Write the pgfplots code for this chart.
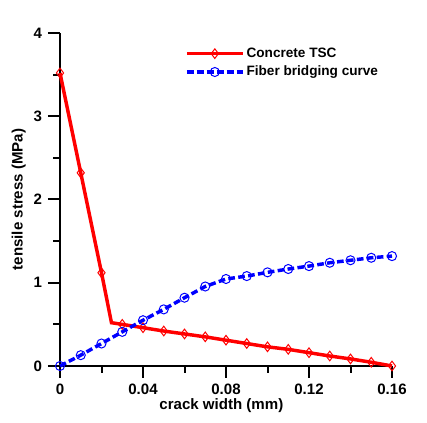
\documentclass[border=0pt]{standalone}
\usepackage{pgfplots}
\pgfplotsset{compat=1.18}
\usepackage{fontspec}
\setmainfont{Liberation Sans}
\begin{document}
\begin{tikzpicture}[x=1pt,y=1pt]
\useasboundingbox (0,0) rectangle (320.25,317.25);
\begin{axis}[
  at={(45pt,42.75pt)}, anchor=south west,
  scale only axis, width=249pt, height=249.75pt,
  xmin=0, xmax=0.16, ymin=0, ymax=4,
  axis x line=bottom, axis y line=left,
  axis line style={-, line width=1.5pt},
  every tick/.style={black, line width=1.5pt},
  tick align=outside,
  major tick length=9pt, minor tick length=5pt,
  xtick={0,0.04,0.08,0.12,0.16},
  xticklabels={0,0.04,0.08,0.12,0.16},
  minor xtick={0.02,0.06,0.10,0.14},
  ytick={0,1,2,3,4},
  yticklabels={0,1,2,3,4},
  minor ytick={0.5,1.5,2.5,3.5},
  ticklabel style={font=\fontsize{11.3}{13}\selectfont\bfseries},
  xticklabel style={yshift=-1pt},
  yticklabel style={xshift=-1pt},
  xlabel={crack width (mm)},
  ylabel={tensile stress (MPa)},
  label style={font=\fontsize{11.3}{13}\selectfont\bfseries},
  xlabel style={at={(axis description cs:0.486,-0.12)}, anchor=center},
  ylabel style={at={(axis description cs:-0.124,0.5)}, anchor=center, rotate=0},
  clip=false,
  legend style={draw=none, fill=none, at={(axis description cs:0.372,0.968)}, anchor=north west,
    font=\fontsize{10.2}{12}\selectfont\bfseries, row sep=1pt,
    inner sep=1pt, nodes={inner xsep=1.5pt}},
  legend cell align=left,
]
\addlegendimage{legend image code/.code={
  \draw[red, line width=2.6pt] (0pt,0pt) -- (42pt,0pt);
  \draw[red, line width=0.75pt] plot[mark=diamond, mark size=3.6pt] coordinates {(21pt,0pt)};}}
\addlegendentry{Concrete TSC}
\addlegendimage{legend image code/.code={
  \draw[blue, line width=2.6pt, dash pattern=on 5pt off 2.5pt] (0pt,0pt) -- (42pt,0pt);
  \draw[blue, line width=0.75pt] plot[mark=o, mark size=3.4pt] coordinates {(21pt,0pt)};}}
\addlegendentry{Fiber bridging curve}
\addplot[red, line width=2.6pt, forget plot, mark=diamond, mark size=3.6pt,
  mark options={solid, line width=0.75pt},
  mark indices={1,2,3,5,6,7,8,9,10,11,12,13,14,15,16,17,18}]
coordinates {
(0,3.52)(0.01,2.32)(0.02,1.12)(0.0248,0.52)(0.03,0.50)(0.04,0.46)(0.05,0.42)
(0.06,0.385)(0.07,0.35)(0.08,0.31)(0.09,0.27)(0.10,0.23)(0.11,0.20)(0.12,0.16)
(0.13,0.12)(0.14,0.085)(0.15,0.045)(0.16,0.0)};
\addplot[blue, line width=2.6pt, forget plot, dash pattern=on 5pt off 2.5pt, mark=o, mark size=3.4pt,
  mark options={solid, line width=0.75pt}]
coordinates {
(0,0)(0.01,0.13)(0.02,0.27)(0.03,0.41)(0.04,0.55)(0.05,0.68)(0.06,0.82)(0.07,0.955)
(0.08,1.045)(0.09,1.08)(0.10,1.125)(0.11,1.165)(0.12,1.20)(0.13,1.24)(0.14,1.27)
(0.15,1.30)(0.16,1.32)};
\end{axis}
\end{tikzpicture}
\end{document}
